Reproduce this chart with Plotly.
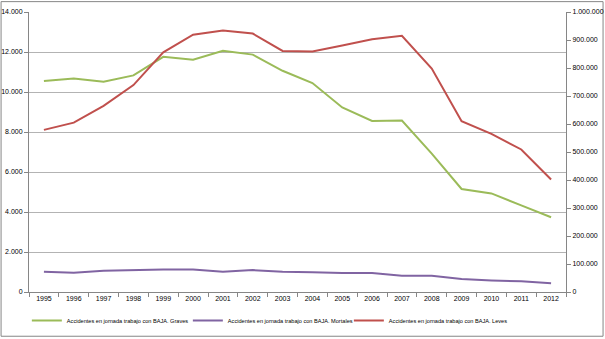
import plotly.graph_objects as go

years = [str(y) for y in range(1995, 2013)]
graves = [10550, 10680, 10510, 10830, 11760, 11610, 12060, 11870, 11060, 10450,
          9230, 8550, 8570, 6920, 5150, 4930, 4330, 3740]
mortales = [1010, 960, 1060, 1096, 1130, 1130, 1010, 1096, 1010, 990,
            947, 947, 812, 812, 648, 581, 532, 433]
leves = [579000, 605000, 665000, 739000, 856000, 919000, 934000, 923000, 861000, 859000,
         880000, 903000, 915000, 798000, 610000, 565000, 509000, 402000]

names = ["Accidentes en jornada trabajo con BAJA. Graves",
         "Accidentes en jornada trabajo con BAJA. Mortales",
         "Accidentes en jornada trabajo con BAJA. Leves"]

FONT = "Liberation Sans, Arial, sans-serif"
TXT = "#000000"

fig = go.Figure()
fig.add_trace(go.Scatter(x=years, y=graves, name=names[0], mode="lines",
                         line=dict(color="#9BBB59", width=2)))
fig.add_trace(go.Scatter(x=years, y=mortales, name=names[1], mode="lines",
                         line=dict(color="#8064A2", width=2)))
fig.add_trace(go.Scatter(x=years, y=leves, name=names[2], mode="lines", yaxis="y2",
                         line=dict(color="#C0504D", width=2)))

fig.update_layout(
    template="none",
    width=605, height=339,
    margin=dict(l=29, r=39, t=12, b=47, autoexpand=False),
    paper_bgcolor="white", plot_bgcolor="white",
    separators=",.",
    font=dict(family=FONT, size=7, color=TXT),
    showlegend=True,
    legend=dict(orientation="h", x=-0.004, xanchor="left", y=-0.102, yanchor="middle",
                font=dict(size=5.6, color=TXT), entrywidth=116, entrywidthmode="pixels",
                itemwidth=30, tracegroupgap=0, bgcolor="rgba(0,0,0,0)", borderwidth=0),
    xaxis=dict(type="category", range=[-0.5, 17.5], tickson="boundaries",
               ticks="outside", ticklen=4,
               tickcolor="#868686", showline=True, linecolor="#868686", linewidth=1,
               showgrid=False, zeroline=False, tickfont=dict(size=7, color=TXT),
               automargin=False),
    yaxis=dict(range=[0, 14000], dtick=2000, tickformat=",.0f", ticks="outside",
               ticklen=4, tickcolor="#868686", showline=True, linecolor="#868686",
               linewidth=1, showgrid=True, gridcolor="#b3b3b3", gridwidth=1,
               zeroline=False, tickfont=dict(size=7, color=TXT), automargin=False),
    yaxis2=dict(range=[0, 1000000], dtick=100000, tickformat=",.0f", overlaying="y",
                side="right", ticks="outside", ticklen=4, tickcolor="#868686",
                showline=True, linecolor="#868686", linewidth=1, showgrid=False,
                zeroline=False, tickfont=dict(size=7, color=TXT), automargin=False),
    shapes=[dict(type="rect", xref="paper", yref="paper",
                 x0=-0.052, x1=1.069, y0=-0.158, y1=1.037,
                 line=dict(color="#868686", width=1), fillcolor="rgba(0,0,0,0)",
                 layer="below")],
)

fig.write_html("out.html")
